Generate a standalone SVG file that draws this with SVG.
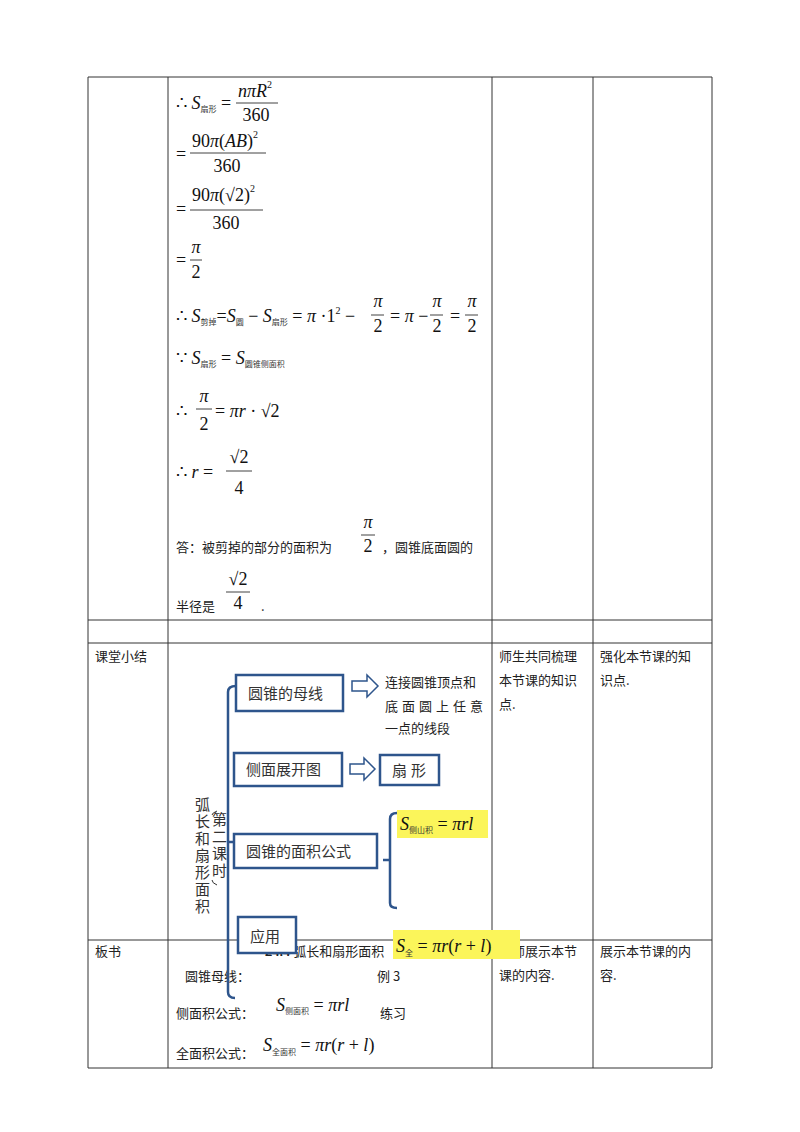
<svg xmlns="http://www.w3.org/2000/svg" width="800" height="1132" viewBox="0 0 800 1132">
<style>
.g{stroke:#333;stroke-width:1;fill:none}
.cn{font-family:"Noto Sans CJK SC","Liberation Sans",sans-serif;font-size:13px;fill:#222}
.m{font-family:"Liberation Serif",serif;font-size:18px;fill:#111}
.i{font-style:italic}
.s{font-family:"Noto Sans CJK SC",sans-serif;font-size:8px;fill:#333;font-style:normal}
.p{font-size:10px}
.fl{stroke:#111;stroke-width:0.8}
.bx{fill:#fff;stroke:#2e558c;stroke-width:2.5}
.br{fill:none;stroke:#2e558c;stroke-width:2.5}
.hl{fill:#fbf55a}
.bt{font-family:"Noto Sans CJK SC",sans-serif;font-size:15px;fill:#333}
.c{text-anchor:middle}
</style>
<rect width="800" height="1132" fill="#fff"/>
<g id="table" class="g">
<line x1="88" y1="77" x2="712" y2="77"/>
<line x1="88" y1="620" x2="712" y2="620"/>
<line x1="88" y1="643" x2="712" y2="643"/>
<line x1="88" y1="940" x2="712" y2="940"/>
<line x1="88" y1="1068" x2="712" y2="1068"/>
<line x1="88" y1="77" x2="88" y2="1068"/>
<line x1="168" y1="77" x2="168" y2="1068"/>
<line x1="492" y1="77" x2="492" y2="1068"/>
<line x1="593" y1="77" x2="593" y2="1068"/>
<line x1="712" y1="77" x2="712" y2="1068"/>
</g>
<g id="math">
<text class="m" x="176" y="109">∴ <tspan class="i">S</tspan><tspan class="s" dy="3">扇形</tspan><tspan dy="-3"> =</tspan></text>
<text class="m" x="238" y="97"><tspan class="i">nπR</tspan><tspan class="p" dy="-9">2</tspan></text>
<line class="fl" x1="236" y1="103" x2="278" y2="103"/>
<text class="m c" x="256" y="121">360</text>

<text class="m" x="176" y="160">=</text>
<text class="m" x="192" y="147">90<tspan class="i">π</tspan>(<tspan class="i">AB</tspan>)<tspan class="p" dy="-9">2</tspan></text>
<line class="fl" x1="190" y1="153" x2="266" y2="153"/>
<text class="m c" x="227" y="172">360</text>

<text class="m" x="176" y="215">=</text>
<text class="m" x="192" y="201">90<tspan class="i">π</tspan>(√2)<tspan class="p" dy="-9">2</tspan></text>
<line class="fl" x1="190" y1="210" x2="263" y2="210"/>
<text class="m c" x="226" y="229">360</text>

<text class="m" x="176" y="266">=</text>
<text class="m i c" x="196" y="253">π</text>
<line class="fl" x1="190" y1="260" x2="202" y2="260"/>
<text class="m c" x="196" y="278">2</text>

<text class="m" x="176" y="322">∴ <tspan class="i">S</tspan><tspan class="s" dy="3">剪掉</tspan><tspan dy="-3">=</tspan><tspan class="i">S</tspan><tspan class="s" dy="3">圆</tspan><tspan dy="-3"> − </tspan><tspan class="i">S</tspan><tspan class="s" dy="3">扇形</tspan><tspan dy="-3"> = </tspan><tspan class="i">π</tspan> ·1<tspan class="p" dy="-8">2</tspan><tspan dy="8"> −</tspan></text>
<text class="m i c" x="378" y="307">π</text><line class="fl" x1="371" y1="315" x2="384" y2="315"/><text class="m c" x="378" y="332">2</text>
<text class="m" x="390" y="322">= <tspan class="i">π</tspan> −</text>
<text class="m i c" x="437" y="307">π</text><line class="fl" x1="430" y1="315" x2="443" y2="315"/><text class="m c" x="437" y="332">2</text>
<text class="m" x="450" y="322">=</text>
<text class="m i c" x="472" y="307">π</text><line class="fl" x1="465" y1="315" x2="478" y2="315"/><text class="m c" x="472" y="332">2</text>

<text class="m" x="176" y="364">∵ <tspan class="i">S</tspan><tspan class="s" dy="3">扇形</tspan><tspan dy="-3"> = </tspan><tspan class="i">S</tspan><tspan class="s" dy="3">圆锥侧面积</tspan></text>

<text class="m" x="176" y="417">∴</text>
<text class="m i c" x="204" y="402" font-size="20">π</text><line class="fl" x1="196" y1="409" x2="212" y2="409"/><text class="m c" x="204" y="430" font-size="20">2</text>
<text class="m" x="215" y="417" font-size="20">= <tspan class="i">πr</tspan> · √2</text>

<text class="m" x="176" y="478">∴ <tspan class="i">r</tspan> =</text>
<text class="m c" x="239" y="463" font-size="20">√2</text><line class="fl" x1="226" y1="471" x2="252" y2="471"/><text class="m c" x="239" y="494" font-size="20">4</text>

<text class="cn" x="176" y="552">答：被剪掉的部分的面积为</text>
<text class="m i c" x="368" y="528">π</text><line class="fl" x1="361" y1="535" x2="375" y2="535"/><text class="m c" x="368" y="552">2</text>
<text class="cn" x="382" y="552">，圆锥底面圆的</text>
<text class="cn" x="176" y="611">半径是</text>
<text class="m c" x="238" y="585">√2</text><line class="fl" x1="226" y1="592" x2="250" y2="592"/><text class="m c" x="238" y="609">4</text>
<text class="cn" x="261" y="611">.</text>
</g>
<g id="labels">
<text class="cn" x="95" y="661">课堂小结</text>
<text class="cn" x="95" y="956">板书</text>
<text class="cn" x="499" y="661">师生共同梳理</text>
<text class="cn" x="499" y="685">本节课的知识</text>
<text class="cn" x="499" y="709">点.</text>
<text class="cn" x="600" y="661">强化本节课的知</text>
<text class="cn" x="600" y="685">识点.</text>
<text class="cn" x="499" y="956">教师展示本节</text>
<text class="cn" x="499" y="980">课的内容.</text>
<text class="cn" x="600" y="956">展示本节课的内</text>
<text class="cn" x="600" y="980">容.</text>
</g>
<g id="board">
<text class="cn" x="265" y="956"><tspan font-weight="bold" font-family="Liberation Sans">24.4</tspan> 弧长和扇形面积</text>
<text class="cn" x="185" y="981" font-size="15">圆锥母线：</text>
<text class="cn" x="377" y="981" font-size="15">例 3</text>
<text class="cn" x="176" y="1018" font-size="15">侧面积公式：</text>
<text class="m" x="276" y="1011"><tspan class="i">S</tspan><tspan class="s" dy="3">侧面积</tspan><tspan dy="-3"> = </tspan><tspan class="i">πrl</tspan></text>
<text class="cn" x="380" y="1018" font-size="15">练习</text>
<text class="cn" x="176" y="1058">全面积公式：</text>
<text class="m" x="263" y="1051" font-size="21"><tspan class="i">S</tspan><tspan class="s" font-size="10" dy="4">全面积</tspan><tspan dy="-4"> = </tspan><tspan class="i">πr</tspan>(<tspan class="i">r</tspan> + <tspan class="i">l</tspan>)</text>
</g>
<g id="connectors">
<path class="br" d="M236 686 Q228 686 228 692 V992 Q228 998 235 998"/>
<line class="br" x1="228" y1="842" x2="234" y2="842"/>
<path class="br" d="M397 813 Q390 813 390 819 V903 Q390 908 397 908"/>
<line class="br" x1="383" y1="860" x2="390" y2="860"/>
<path d="M352 681 H367 V675 L378 686 L367 697 V691 H352 Z" fill="#fff" stroke="#2e558c" stroke-width="1.5"/>
<path d="M350 764 H364 V758 L375 769 L364 780 V774 H350 Z" fill="#fff" stroke="#2e558c" stroke-width="1.5"/>
</g>
<g id="n1"><rect class="bx" x="236" y="675" width="107" height="36"/><text class="bt" x="248" y="699">圆锥的母线</text></g>
<g id="n1t">
<text class="cn" x="385" y="687">连接圆锥顶点和</text>
<text class="cn" x="385" y="711" letter-spacing="4">底面圆上任意</text>
<text class="cn" x="385" y="733">一点的线段</text>
</g>
<g id="n2"><rect class="bx" x="234" y="753" width="108" height="33"/><text class="bt" x="246" y="775">侧面展开图</text></g>
<g id="n3"><rect class="bx" x="380" y="755" width="59" height="30"/><text class="bt" x="392" y="776" letter-spacing="4">扇形</text></g>
<g id="n4"><rect class="bx" x="234" y="834" width="143" height="34"/><text class="bt" x="246" y="857">圆锥的面积公式</text></g>
<g id="n5"><rect class="bx" x="238" y="917" width="58" height="36"/><text class="bt" x="250" y="942">应用</text></g>
<g id="h1"><rect class="hl" x="397" y="810" width="91" height="28"/>
<text class="m" x="400" y="830" font-size="19"><tspan class="i">S</tspan><tspan class="s" dy="3">侧山积</tspan><tspan dy="-3"> = </tspan><tspan class="i">πrl</tspan></text></g>
<g id="h2"><rect class="hl" x="393" y="930" width="127" height="29"/>
<text class="m" x="396" y="952" font-size="21"><tspan class="i">S</tspan><tspan class="s" font-size="10" dy="4">全</tspan><tspan dy="-4"> = </tspan><tspan class="i">πr</tspan>(<tspan class="i">r</tspan> + <tspan class="i">l</tspan>)</text></g>
<g id="title">
<text class="bt" x="195" y="810" font-size="15">弧</text>
<text class="bt" x="195" y="827" font-size="15">长</text>
<text class="bt" x="195" y="844" font-size="15">和</text>
<text class="bt" x="195" y="861" font-size="15">扇</text>
<text class="bt" x="195" y="878" font-size="15">形</text>
<text class="bt" x="195" y="895" font-size="15">面</text>
<text class="bt" x="195" y="912" font-size="15">积</text>
<text class="bt" x="212" y="825" font-size="12">第</text>
<text class="bt" x="212" y="842" font-size="12">二</text>
<text class="bt" x="212" y="859" font-size="12">课</text>
<text class="bt" x="212" y="876" font-size="12">时</text>
<path d="M217 811 Q212 813 212 815 M217 885 Q212 883 212 880" class="g"/>
</g>
</svg>
